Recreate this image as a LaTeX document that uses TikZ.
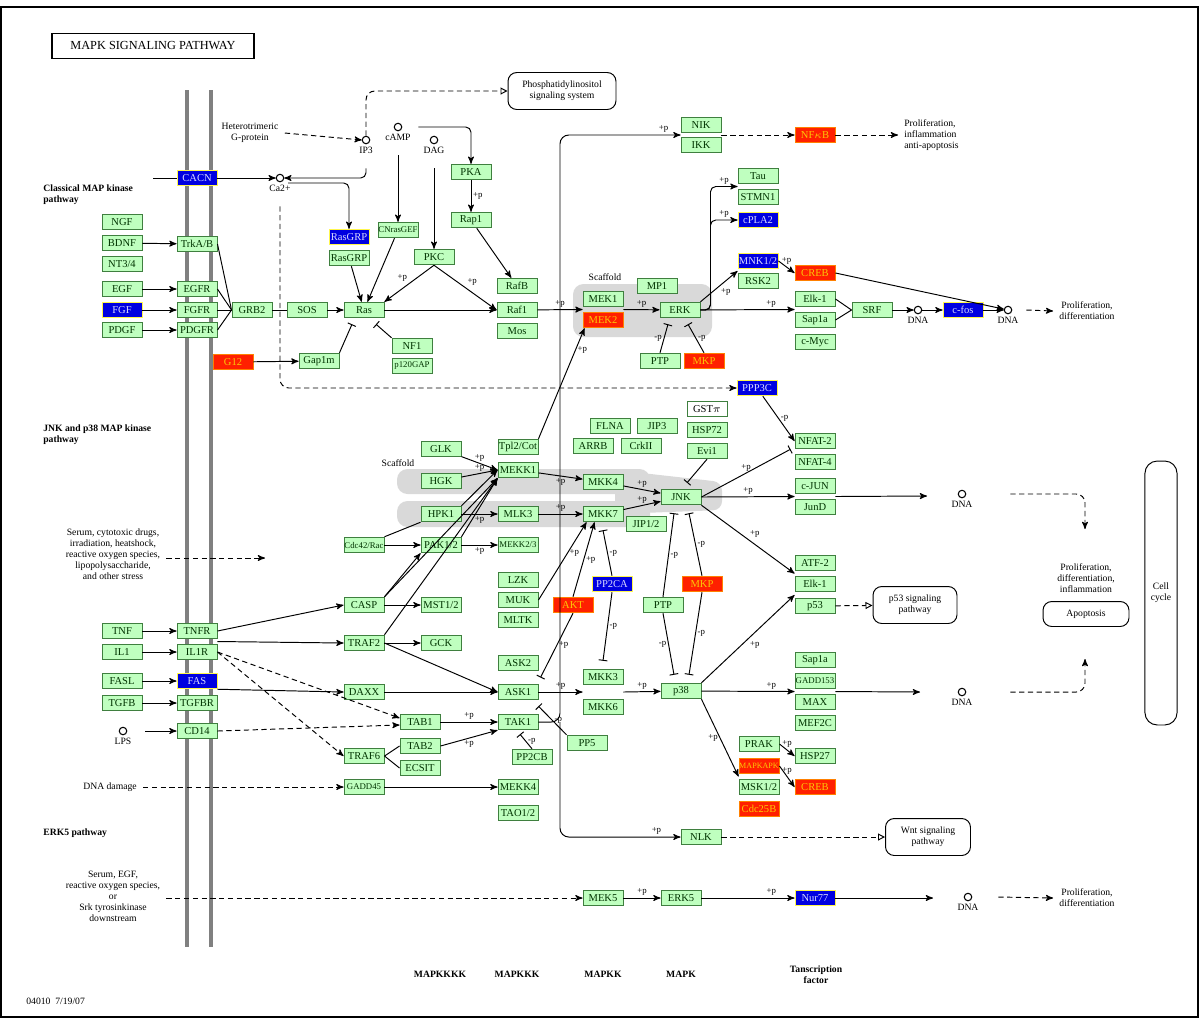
\documentclass[tikz,border=0pt]{standalone}
\usepackage{fontspec}
\setmainfont{Liberation Serif}
\usetikzlibrary{arrows,arrows.meta,calc,positioning}
\definecolor{kgreen}{HTML}{BFFFBF}
\definecolor{kborder}{HTML}{3F7F3F}
\definecolor{kred}{HTML}{FF2000}
\definecolor{kblue}{HTML}{0000E0}
\definecolor{scafgray}{HTML}{D9D9D9}

\begin{document}
\begin{tikzpicture}[x=0.02cm,y=-0.02cm,>=stealth',line width=0.55pt,
  gene/.style={draw=kborder,fill=kgreen,text=black!80!green,minimum width=0.8cm,minimum height=0.31cm,inner sep=0pt,font=\fontsize{6}{6.5}\selectfont},
  narrow/.style={font=\fontsize{5}{5.5}\selectfont},
  upgene/.style={gene,fill=kred,draw=orange,text=yellow!60!orange},
  dngene/.style={gene,fill=kblue,draw=yellow!70!white,text=blue!15!white},
  cpd/.style={circle,draw,line width=0.6pt,inner sep=0pt,minimum size=0.15cm},
  txt/.style={font=\fontsize{5.5}{6.3}\selectfont,align=center},
  pathlbl/.style={font=\bfseries\fontsize{5.5}{6.3}\selectfont,align=left,anchor=west},
  levellbl/.style={font=\bfseries\fontsize{5.5}{6.3}\selectfont,align=center},
  pathmap/.style={draw,rounded corners=5pt,txt,inner sep=1pt},
  pl/.style={font=\fontsize{5}{5}\selectfont,inner sep=1pt},
  ind/.style={->,dash pattern=on 3pt off 2pt},
  inh/.style={-{Bar[width=5pt]}},
  tomap/.style={dash pattern=on 3pt off 2pt,-{Triangle[open,length=4pt,width=4pt]}},
  membrane/.style={line width=2.2pt,gray},
  scaf/.style={fill=scafgray}]

\useasboundingbox (0,0) rectangle (1200,1019);
\draw[line width=0.8pt] (1,7) rectangle (1198,1017);

% membrane and scaffolds
\draw[membrane] (187,90) -- (187,947);
\draw[membrane] (211,90) -- (211,947);
\fill[scaf,rounded corners=6pt] (573,284) rectangle (712,337);
\fill[scaf,rounded corners=6pt] (397,469) rectangle (650,494);
\fill[scaf,rounded corners=6pt] (397,501) rectangle (650,527);
\fill[scaf,rounded corners=5pt] (615,470) -- (722,482) -- (722,510) -- (615,514) -- cycle;

% labels
\node[draw,line width=0.8pt,minimum width=4.04cm,minimum height=0.5cm,font=\fontsize{7}{8}\selectfont] (title) at (153,46) {MAPK SIGNALING PATHWAY};
\node[pathlbl] (classical) at (37,195) {Classical MAP kinase\\pathway};
\node[pathlbl] (jnkpath) at (37,435) {JNK and p38 MAP kinase\\pathway};
\node[pathlbl] (erk5path) at (37,833) {ERK5 pathway};
\node[txt] (hetg) at (250,133) {Heterotrimeric\\G-protein};
\node[txt] (stress) at (113,554) {Serum, cytotoxic drugs,\\irradiation, heatshock,\\reactive oxygen species,\\lipopolysaccharide,\\and other stress};
\node[txt] (dnadmg) at (110,787) {DNA damage};
\node[txt] (serum) at (113,896) {Serum, EGF,\\reactive oxygen species,\\or\\Srk tyrosinkinase\\downstream};
\node[txt] (scafa) at (605,277) {Scaffold};
\node[txt] (scafb) at (398,463) {Scaffold};
\node[txt,anchor=west] (date) at (20,1001) {04010\ \ 7/19/07};
\node[levellbl] (l4) at (440,974) {MAPKKKK};
\node[levellbl] (l3) at (517,974) {MAPKKK};
\node[levellbl] (l2) at (603,974) {MAPKK};
\node[levellbl] (l1) at (681,974) {MAPK};
\node[levellbl] (tf) at (816,975) {Tanscription\\factor};
\node[txt,align=left,anchor=west] (prolifa) at (898,135) {Proliferation,\\inflammation\\anti-apoptosis};
\node[txt] (prolifb) at (1087,311) {Proliferation,\\differentiation};
\node[txt] (prolifc) at (1086,578) {Proliferation,\\differentiation,\\inflammation};
\node[txt] (prolifd) at (1087,898) {Proliferation,\\differentiation};
\node[pathmap,minimum width=2.16cm,minimum height=0.74cm] (pis) at (562,91) {Phosphatidylinositol\\signaling system};
\node[pathmap,minimum width=1.68cm,minimum height=0.74cm] (p53map) at (915,605) {p53 signaling\\pathway};
\node[pathmap,minimum width=1.7cm,minimum height=0.74cm] (wnt) at (928,837) {Wnt signaling\\pathway};
\node[pathmap,minimum width=1.72cm,minimum height=0.5cm] (apop) at (1086,614) {Apoptosis};
\node[draw,rounded corners=7pt,txt,minimum width=0.64cm,minimum height=5.28cm] (cellcyc) at (1161,593) {Cell\\cycle};

% compounds
\node[cpd,label={[txt,inner sep=1.5pt]below:IP3}] (ip3) at (366,140) {};
\node[cpd,label={[txt,inner sep=1.5pt]below:cAMP}] (camp) at (398,127) {};
\node[cpd,label={[txt,inner sep=1.5pt]below:DAG}] (dag) at (434,140) {};
\node[cpd,label={[txt,inner sep=1.5pt]below:Ca2+}] (ca) at (280,178) {};
\node[cpd,label={[txt,inner sep=1.5pt]below:DNA}] (dnaa) at (918,310) {};
\node[cpd,label={[txt,inner sep=1.5pt]below:DNA}] (dnab) at (1008,310) {};
\node[cpd,label={[txt,inner sep=1.5pt]below:DNA}] (dnac) at (962,494) {};
\node[cpd,label={[txt,inner sep=1.5pt]below:DNA}] (dnad) at (962,692) {};
\node[cpd,label={[txt,inner sep=1.5pt]below:DNA}] (dnae) at (968,897) {};
\node[cpd,label={[txt,inner sep=1.5pt]below:LPS}] (lps) at (123,731) {};

% classical MAP kinase genes
\node[gene] (ngf) at (122,222) {NGF};
\node[gene] (bdnf) at (122,243) {BDNF};
\node[gene] (nt34) at (122,264) {NT3/4};
\node[gene] (egf) at (122,289) {EGF};
\node[dngene] (fgf) at (122,310) {FGF};
\node[gene] (pdgf) at (122,330) {PDGF};
\node[dngene] (cacn) at (197,178) {CACN};
\node[gene] (trkab) at (197,244) {TrkA/B};
\node[gene] (egfr) at (197,289) {EGFR};
\node[gene] (fgfr) at (197,310) {FGFR};
\node[gene] (pdgfr) at (197,330) {PDGFR};
\node[gene] (grb2) at (252,310) {GRB2};
\node[gene] (sos) at (307,310) {SOS};
\node[gene] (ras) at (364,310) {Ras};
\node[dngene] (rasgrpa) at (349,237) {RasGRP};
\node[gene] (rasgrpb) at (349,258) {RasGRP};
\node[gene,narrow] (cnrasgef) at (398,230) {CNrasGEF};
\node[gene] (pkc) at (434,257) {PKC};
\node[gene] (pka) at (471,172) {PKA};
\node[gene] (rap1) at (471,220) {Rap1};
\node[gene] (rafb) at (517,286) {RafB};
\node[gene] (raf1) at (517,310) {Raf1};
\node[gene] (mos) at (517,331) {Mos};
\node[upgene] (g12) at (233,362) {G12};
\node[gene] (gap1m) at (319,361) {Gap1m};
\node[gene] (nf1) at (412,346) {NF1};
\node[gene,narrow] (p120gap) at (412,366) {p120GAP};
\node[gene] (mek1) at (603,299) {MEK1};
\node[upgene] (mek2) at (603,320) {MEK2};
\node[gene] (mp1) at (657,286) {MP1};
\node[gene] (erk) at (680,310) {ERK};
\node[gene] (ptpa) at (660,361) {PTP};
\node[upgene] (mkpa) at (704,361) {MKP};
\node[gene] (tau) at (758,176) {Tau};
\node[gene] (stmn1) at (758,197) {STMN1};
\node[dngene] (cpla2) at (758,220) {cPLA2};
\node[dngene] (mnk12) at (758,261) {MNK1/2};
\node[gene] (rsk2) at (758,281) {RSK2};
\node[upgene] (creba) at (815,273) {CREB};
\node[gene] (elk1a) at (815,299) {Elk-1};
\node[gene] (sap1aa) at (815,320) {Sap1a};
\node[gene] (cmyc) at (815,342) {c-Myc};
\node[gene] (srf) at (872,310) {SRF};
\node[dngene] (cfos) at (963,310) {c-fos};
\node[gene] (nik) at (701,125) {NIK};
\node[gene] (ikk) at (701,145) {IKK};
\node[upgene] (nfkb) at (815,135) {NF$\kappa$B};
\node[dngene] (ppp3c) at (757,388) {PPP3C};

% JNK and p38 genes
\node[gene] (tnf) at (122,631) {TNF};
\node[gene] (il1) at (122,652) {IL1};
\node[gene] (fasl) at (122,681) {FASL};
\node[gene] (tgfb) at (122,703) {TGFB};
\node[gene] (tnfr) at (197,631) {TNFR};
\node[gene] (il1r) at (197,652) {IL1R};
\node[dngene] (fas) at (197,681) {FAS};
\node[gene] (tgfbr) at (197,703) {TGFBR};
\node[gene] (cd14) at (197,731) {CD14};
\node[gene] (glk) at (441,449) {GLK};
\node[gene] (tpl2) at (518,447) {Tpl2/Cot};
\node[gene] (mekk1) at (518,470) {MEKK1};
\node[gene] (hgk) at (441,481) {HGK};
\node[gene] (hpk1) at (441,514) {HPK1};
\node[gene] (mlk3) at (518,514) {MLK3};
\node[gene,narrow] (cdc42) at (364,545) {Cdc42/Rac};
\node[gene] (pak12) at (441,545) {PAK1/2};
\node[gene,narrow] (mekk23) at (518,545) {MEKK2/3};
\node[gene] (lzk) at (518,580) {LZK};
\node[gene] (muk) at (518,600) {MUK};
\node[gene] (mltk) at (518,620) {MLTK};
\node[upgene] (akt) at (573,605) {AKT};
\node[gene] (casp) at (364,605) {CASP};
\node[gene] (mst12) at (441,605) {MST1/2};
\node[gene] (traf2) at (364,643) {TRAF2};
\node[gene] (gck) at (441,643) {GCK};
\node[gene] (ask2) at (518,663) {ASK2};
\node[gene] (ask1) at (518,692) {ASK1};
\node[gene] (daxx) at (364,692) {DAXX};
\node[gene] (tab1) at (420,722) {TAB1};
\node[gene] (tak1) at (518,722) {TAK1};
\node[gene] (traf6) at (364,756) {TRAF6};
\node[gene] (tab2) at (420,746) {TAB2};
\node[gene] (ecsit) at (420,768) {ECSIT};
\node[gene] (pp2cb) at (532,757) {PP2CB};
\node[gene] (pp5) at (587,743) {PP5};
\node[gene,narrow] (gadd45) at (364,787) {GADD45};
\node[gene] (mekk4) at (518,787) {MEKK4};
\node[gene] (tao12) at (518,813) {TAO1/2};
\node[gene] (flna) at (610,426) {FLNA};
\node[gene] (jip3) at (657,426) {JIP3};
\node[gene] (arrb) at (593,446) {ARRB};
\node[gene] (crkii) at (641,446) {CrkII};
\node[gene,fill=white,text=black] (gstpi) at (707,409) {GST$\pi$};
\node[gene] (hsp72) at (707,430) {HSP72};
\node[gene] (evi1) at (707,451) {Evi1};
\node[gene] (mkk4) at (603,482) {MKK4};
\node[gene] (mkk7) at (603,514) {MKK7};
\node[gene] (jnk) at (681,497) {JNK};
\node[gene] (jip12) at (646,524) {JIP1/2};
\node[dngene] (pp2ca) at (612,584) {PP2CA};
\node[upgene] (mkpb) at (702,584) {MKP};
\node[gene] (ptpb) at (663,605) {PTP};
\node[gene] (mkk3) at (603,677) {MKK3};
\node[gene] (mkk6) at (603,707) {MKK6};
\node[gene] (p38) at (681,691) {p38};
\node[gene] (nfat2) at (815,441) {NFAT-2};
\node[gene] (nfat4) at (815,462) {NFAT-4};
\node[gene] (cjun) at (815,486) {c-JUN};
\node[gene] (jund) at (815,507) {JunD};
\node[gene] (atf2) at (815,563) {ATF-2};
\node[gene] (elk1b) at (815,584) {Elk-1};
\node[gene] (p53) at (815,606) {p53};
\node[gene] (sap1ab) at (815,660) {Sap1a};
\node[gene,narrow] (gadd153) at (815,681) {GADD153};
\node[gene] (max) at (815,702) {MAX};
\node[gene] (mef2c) at (815,723) {MEF2C};
\node[gene] (prak) at (759,744) {PRAK};
\node[upgene,font=\fontsize{4.6}{5}\selectfont] (mapkapk) at (759,766) {MAPKAPK};
\node[gene] (msk12) at (759,787) {MSK1/2};
\node[upgene] (cdc25b) at (759,809) {Cdc25B};
\node[gene] (hsp27) at (815,756) {HSP27};
\node[upgene] (crebb) at (815,787) {CREB};
\node[gene] (nlk) at (701,837) {NLK};
\node[gene] (mek5) at (603,898) {MEK5};
\node[gene] (erk5) at (681,898) {ERK5};
\node[dngene] (nur77) at (815,898) {Nur77};

\coordinate (cacnin) at (153,178);
\coordinate (stressend) at (265,558);
\coordinate (tj) at (560,722);
\coordinate (dnacin) at (927,496);
\coordinate (dnadin) at (920,692);
\coordinate (dnaein) at (933,898);
\coordinate (prolifcin) at (1085,529);
\coordinate (apopin) at (1085,659);

% classical MAP kinase pathway
\draw (cacnin) -- (cacn);
\draw[->] (cacn) -- (ca);
\draw[ind] (hetg.east) -- (ip3.west);
\draw[tomap,rounded corners=5pt] (ip3.north) |- (pis.west);
\draw[->,rounded corners=3pt] (ip3.south) ++(0,24) |- (ca.east);
\draw[->,rounded corners=3pt] (ca) ++(8,5) -| (rasgrpa.north);
\draw[ind,rounded corners=5pt] (ca.south) ++(0,24) |- (ppp3c.west);
\draw[->] (camp.south) ++(0,24) -- (cnrasgef.north);
\draw[->,rounded corners=3pt] (camp.east) ++(16,0) -| (pka.north);
\draw[->] (dag.south) ++(0,24) -- (pkc.north);
\draw[->] (pka) -- node[pl,right]{+p} (rap1);
\draw[->] (rap1) -- (rafb);
\draw[->] (rasgrpb) -- (ras);
\draw[->] (cnrasgef) -- (ras);
\draw[->] (pkc.south) -- node[pl,above left]{+p} (ras.north east);
\draw[->] (pkc.south) -- node[pl,above right]{+p} (raf1.west);
\draw[->] (bdnf) -- (trkab);
\draw[->] (egf) -- (egfr);
\draw[->] (fgf) -- (fgfr);
\draw[->] (pdgf) -- (pdgfr);
\foreach \r in {trkab,egfr,fgfr,pdgfr}
  \draw (\r.east) -- (grb2.west);
\draw (grb2) -- (sos);
\draw[->] (sos) -- (ras);
\draw[->] (ras) -- (raf1);
\draw[->] (g12) -- (gap1m);
\draw[inh] (gap1m.north east) -- ($(ras.south)+(-12,6)$);
\draw[inh] (nf1.north west) -- ($(ras.south)+(12,6)$);
\draw[->] (raf1) -- node[pl,above]{+p} ($(mek1.south west)!.5!(mek2.north west)$);
\draw[->] ($(mek1.south east)!.5!(mek2.north east)$) -- node[pl,above]{+p} (erk);
\draw[inh] (ptpa.north) -- node[pl,left]{-p} ($(erk.south)+(-12,6)$);
\draw[inh] (mkpa.north) -- node[pl,right]{-p} ($(erk.south)+(8,6)$);
\draw[->,rounded corners=3pt] (erk.east) -- ++(10,0) |- node[pl,pos=0.75,above]{+p} ($(tau.south west)!.5!(stmn1.north west)$);
\draw[->,rounded corners=3pt] (erk.east) -- ++(10,0) |- node[pl,pos=0.75,above]{+p} (cpla2.west);
\draw[->] (erk.north east) -- node[pl,below right]{+p} ($(mnk12.south west)!.5!(rsk2.north west)$);
\draw[->] (mnk12.east) -- node[pl,above]{+p} (creba.west);
\draw[->] (creba.east) -- (dnab);
\draw[->] (erk) -- node[pl,above,pos=0.75]{+p} ($(elk1a.south west)!.5!(sap1aa.north west)$);
\draw (elk1a.east) -- (srf.west);
\draw (sap1aa.east) -- (srf.west);
\draw[->] (srf) -- (dnaa);
\draw[->] (dnaa) -- (cfos);
\draw[->] (cfos) -- (dnab);
\draw[ind] ($(dnab.east)+(14,0)$) -- (prolifb.west);
\draw[->] (tpl2.north east) -- node[pl,right,pos=0.8]{+p} ($(mek2.south west)+(2,0)$);
\draw[->,rounded corners=5pt] (tak1.east) -- (tj) |- node[pl,pos=0.93,above]{+p} ($(nik.south west)!.5!(ikk.north west)$);
\draw[->,rounded corners=5pt] (tj) |- node[pl,pos=0.9,above]{+p} (nlk.west);
\draw[ind] ($(nik.south east)!.5!(ikk.north east)$) -- (nfkb);
\draw[ind] (nfkb) -- (prolifa.west);

% JNK and p38 MAP kinase pathway
\draw[ind] (stress.east |- stressend) -- (stressend);
\draw[->] (tnf) -- (tnfr);
\draw[->] (il1) -- (il1r);
\draw[->] (fasl) -- (fas);
\draw[->] (tgfb) -- (tgfbr);
\draw[->] (lps) ++(22,0) -- (cd14);
\draw[->] (tnfr.east) -- (casp.west);
\draw[->] ($(tnfr.south east)!.5!(il1r.north east)$) -- (traf2.west);
\draw[->] (fas.south east) -- (daxx.west);
\draw[ind] (il1r.east) -- (traf6.west);
\draw[ind] (il1r.east) -- ($(tab1.west)+(0,-4)$);
\draw[ind] (cd14.east) -- ($(tab1.west)+(0,3)$);
\draw[->] (glk) -- node[pl,above]{+p} (mekk1.west);
\draw[->] (hgk) -- node[pl,above]{+p} (mekk1.west);
\draw[->] (hpk1.north east) -- (mekk1.west);
\draw[->] (pak12.north east) -- (mekk1.south west);
\draw[->] (casp.north east) -- (mekk1.south west);
\draw[->] (traf2.north east) -- (mekk1.south west);
\draw[->] (casp.north east) -- (pak12.south west);
\draw (cdc42.north east) -- (hpk1.south west);
\draw[->] (cdc42) -- (pak12);
\draw[->] (hpk1) -- node[pl,below]{+p} (mlk3);
\draw[->] (pak12) -- node[pl,below]{+p} (mekk23);
\draw[->] (casp) -- (mst12);
\draw[->] (traf2) -- (gck);
\draw[->] (traf2.east) -- (ask1.west);
\draw[->] (mekk1) -- node[pl,below]{+p} (mkk4);
\draw[->] (mlk3) -- node[pl,above]{+p} (mkk7);
\draw[->] (mkk4) -- node[pl,above]{+p} (jnk);
\draw[->] (mkk7) -- node[pl,above]{+p} (jnk);
\draw[inh] (evi1.south) -- ($(jnk.north)+(6,-6)$);
\draw[->] (muk.east) -- node[pl,right,pos=0.6]{+p} ($(mkk7.south west)+(4,0)$);
\draw[->] (akt.north) -- node[pl,right]{+p} ($(mkk7.south west)+(12,0)$);
\draw[inh] (akt.south) -- node[pl,right]{+p} ($(ask2.south east)!.5!(ask1.north east)+(2,0)$);
\draw[inh] (pp2ca.north) -- node[pl,right]{-p} ($(mkk7.south)+(0,8)$);
\draw[inh] (pp2ca.south) -- node[pl,right]{-p} ($(mkk3.north)+(0,-8)$);
\draw[inh] (ptpb.north) -- node[pl,right]{-p} ($(jnk.south)+(-7,8)$);
\draw[inh] (mkpb.north) -- node[pl,right]{-p} ($(jnk.south)+(8,8)$);
\draw[inh] (ptpb.south) -- node[pl,left]{-p} ($(p38.north)+(-7,-8)$);
\draw[inh] (mkpb.south) -- node[pl,right]{-p} ($(p38.north)+(8,-8)$);
\draw[->] (daxx) -- (ask1);
\draw[->] (ask1) -- node[pl,above]{+p} ($(mkk3.south west)!.5!(mkk6.north west)$);
\draw[->] ($(mkk3.south east)!.5!(mkk6.north east)$) -- node[pl,above]{+p} (p38);
\draw[inh] (pp5.north west) -- node[pl,right]{-p} ($(ask1.south east)+(0,6)$);
\draw[inh] (pp2cb.north) -- node[pl,right]{-p} ($(tak1.south)+(2,4)$);
\draw (traf6.east) -- (tab2.west);
\draw (traf6.east) -- (ecsit.west);
\draw[->] (tab1) -- node[pl,above]{+p} (tak1);
\draw[->] (tab2.east) -- node[pl,below]{+p} (tak1.south west);
\draw[ind] (dnadmg.east) -- (gadd45.west);
\draw[->] (gadd45) -- (mekk4);
\draw[->] (ppp3c) -- node[pl,right]{-p} (nfat2.west);
\draw[inh] (jnk.east) -- node[pl,above]{+p} ($(nfat2.south west)+(-4,0)$);
\draw[->] (jnk.east) -- node[pl,above]{+p} ($(cjun.south west)!.5!(jund.north west)$);
\draw[->] (jnk.south east) -- node[pl,above right]{+p} ($(atf2.south west)!.5!(elk1b.north west)$);
\draw[->] (p38.north east) -- node[pl,below right]{+p} ($(elk1b.south west)!.5!(p53.north west)$);
\draw[->] (p38) -- node[pl,above,pos=0.75]{+p} ($(gadd153.south west)!.5!(max.north west)$);
\draw[->] (p38.south east) -- node[pl,left]{+p} ($(mapkapk.south west)!.5!(msk12.north west)$);
\draw[->] (prak.east) -- node[pl,above]{+p} (hsp27.west);
\draw[->] (mapkapk.east) -- node[pl,above]{+p} (crebb.west);
\draw[tomap] (p53) -- (p53map);
\draw[->] ($(cjun.south east)!.5!(jund.north east)$) -- (dnacin);
\draw[->] ($(gadd153.south east)!.5!(max.north east)$) -- (dnadin);
\draw[ind,rounded corners=5pt] ($(dnac.east)+(44,0)$) -| (prolifcin);
\draw[ind,rounded corners=5pt] ($(dnad.east)+(44,0)$) -| (apopin);
\draw[tomap] (nlk) -- (wnt);

% ERK5 pathway
\draw[ind] (serum.east |- mek5) -- (mek5);
\draw[->] (mek5) -- node[pl,above]{+p} (erk5);
\draw[->] (erk5) -- node[pl,above,pos=0.75]{+p} (nur77);
\draw[->] (nur77) -- (dnaein);
\draw[ind] ($(dnae.east)+(26,0)$) -- (prolifd.west);
\end{tikzpicture}
\end{document}
